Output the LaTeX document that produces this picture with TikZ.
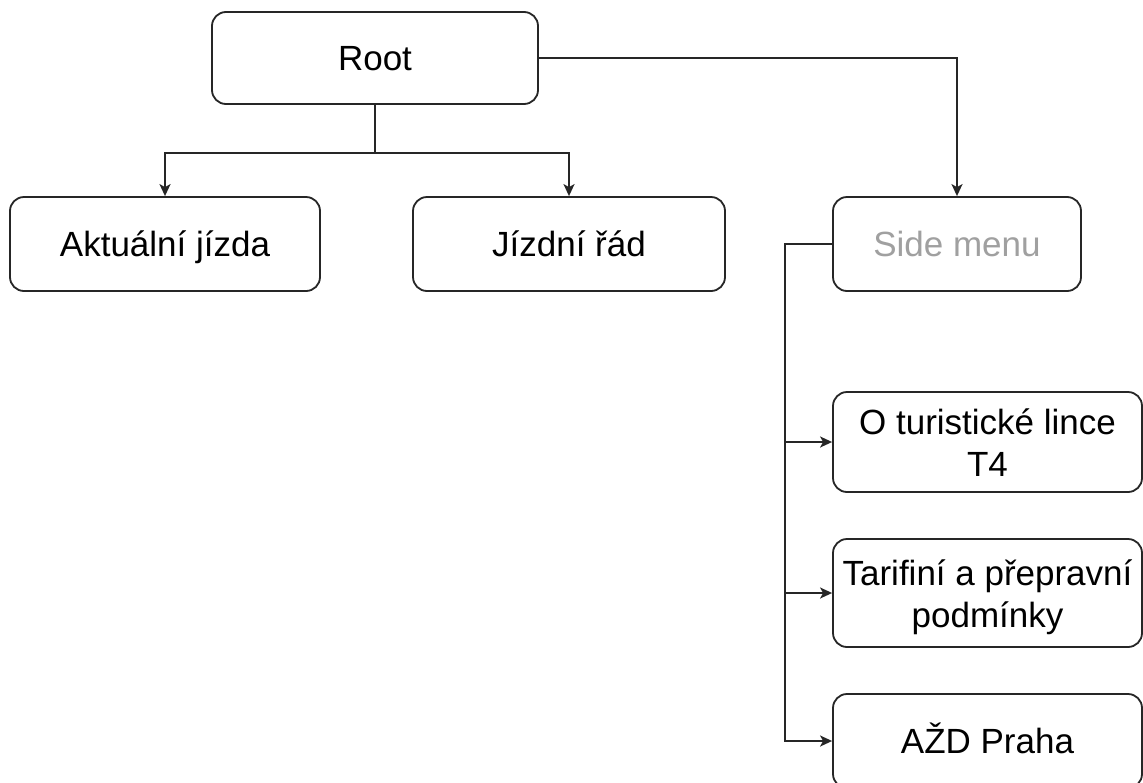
\documentclass[tikz,border=0pt]{standalone}
\usepackage{fontspec}
\setmainfont{Liberation Sans}
\usetikzlibrary{arrows.meta}
\definecolor{menugrey}{HTML}{A0A0A0}
\tikzset{
  box/.style={draw=black!85, line width=1.8pt, rounded corners=14pt, fill=white,
    align=center, inner sep=0pt, font=\fontsize{35}{42}\selectfont,
    text height=32pt, text depth=7pt},
  twoline/.style={text height=75pt, text depth=7pt},
  link/.style={draw=black!85, line width=1.8pt,
    -{Stealth[length=12pt,width=11pt,inset=3pt]}},
}
\begin{document}
\begin{tikzpicture}[x=1pt,y=-1pt]
  \clip (0,0) rectangle (1143,782);
  \fill[white] (0,0) rectangle (1143,782);

  % top level
  \node[box, minimum width=326pt, minimum height=92pt] (root) at (375,58) {Root};

  % first row of pages
  \node[box, minimum width=310pt, minimum height=94pt] (akt) at (165,244) {Aktuální jízda};
  \node[box, minimum width=312pt, minimum height=94pt] (jiz) at (569,244) {Jízdní řád};
  \node[box, minimum width=248pt, minimum height=94pt, text=menugrey] (side) at (957,244) {Side menu};

  % side menu entries
  \node[box, twoline, minimum width=309pt, minimum height=100pt] (lin) at (987.5,442) {O turistické lince\\T4};
  \node[box, twoline, minimum width=309pt, minimum height=108pt] (tar) at (987.5,593) {Tarifiní a přepravní\\podmínky};
  \node[box, minimum width=309pt, minimum height=94pt] (azd) at (987.5,741) {AŽD Praha};

  % connectors from the root
  \draw[link] (root.south) -- ++(0,48) -| (akt.north);
  \draw[link] (root.south) -- ++(0,48) -| (jiz.north);
  \draw[link] (root.east) -| (side.north);

  % connectors from the side menu
  \draw[link] (side.west) -- ++(-47,0) |- (lin.west);
  \draw[link] (side.west) -- ++(-47,0) |- (tar.west);
  \draw[link] (side.west) -- ++(-47,0) |- (azd.west);
\end{tikzpicture}
\end{document}
